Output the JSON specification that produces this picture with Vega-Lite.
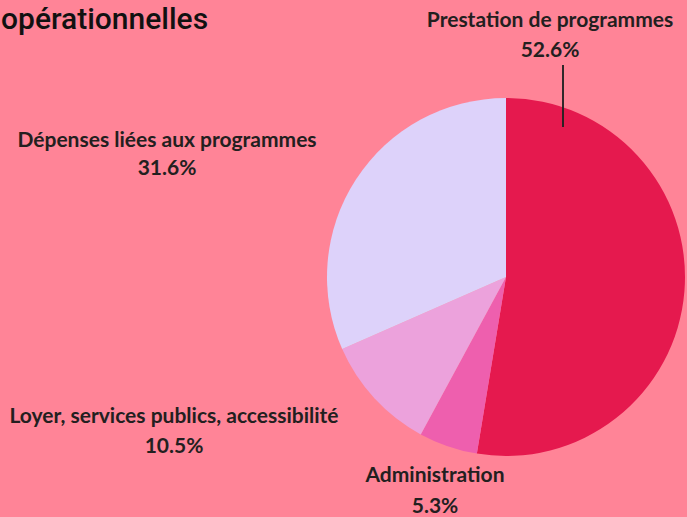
{
  "$schema": "https://vega.github.io/schema/vega-lite/v6.json",
  "width": 687,
  "height": 517,
  "autosize": {"type": "fit", "contains": "padding"},
  "padding": 0,
  "background": "#FF8497",
  "config": {"view": {"stroke": null}},
  "data": {
    "values": [
      {"rank": 1, "name": "Prestation de programmes", "pct": 52.6},
      {"rank": 2, "name": "Administration", "pct": 5.3},
      {"rank": 3, "name": "Loyer, services publics, accessibilité", "pct": 10.5},
      {"rank": 4, "name": "Dépenses liées aux programmes", "pct": 31.6}
    ]
  },
  "transform": [
    {"calculate": "datum.name + '\\n' + format(datum.pct, '.1f') + '%'", "as": "label"}
  ],
  "layer": [
    {
      "mark": {"type": "arc", "outerRadius": 179},
      "encoding": {
        "x": {"datum": 506, "type": "quantitative", "scale": {"domain": [0, 687], "nice": false, "zero": false}, "axis": null},
        "y": {"datum": 277, "type": "quantitative", "scale": {"domain": [0, 517], "nice": false, "zero": false, "reverse": true}, "axis": null},
        "theta": {"field": "pct", "type": "quantitative", "stack": true},
        "order": {"field": "rank", "type": "quantitative"},
        "color": {
          "field": "name",
          "type": "nominal",
          "legend": null,
          "scale": {
            "domain": ["Prestation de programmes", "Administration", "Loyer, services publics, accessibilité", "Dépenses liées aux programmes"],
            "range": ["#E5194E", "#EE5FAE", "#ECA2DC", "#DDD2FA"]
          }
        }
      }
    },
    {
      "mark": {"type": "rule", "color": "#222222", "strokeWidth": 1},
      "encoding": {
        "x": {"datum": 563, "type": "quantitative", "scale": {"domain": [0, 687], "nice": false, "zero": false}, "axis": null},
        "y": {"datum": 65, "type": "quantitative", "scale": {"domain": [0, 517], "nice": false, "zero": false, "reverse": true}, "axis": null},
        "y2": {"datum": 127}
      }
    },
    {
      "transform": [{"filter": "datum.rank == 1"}],
      "mark": {"type": "text", "font": "Lato", "fontWeight": "bold", "fontSize": 21, "color": "#231F20", "lineBreak": "\n", "lineHeight": 30, "align": "center", "baseline": "alphabetic"},
      "encoding": {
        "x": {"datum": 550, "type": "quantitative", "scale": {"domain": [0, 687], "nice": false, "zero": false}, "axis": null},
        "y": {"datum": 27, "type": "quantitative", "scale": {"domain": [0, 517], "nice": false, "zero": false, "reverse": true}, "axis": null},
        "text": {"field": "label"}
      }
    },
    {
      "transform": [{"filter": "datum.rank == 2"}],
      "mark": {"type": "text", "font": "Lato", "fontWeight": "bold", "fontSize": 21, "color": "#231F20", "lineBreak": "\n", "lineHeight": 31, "align": "center", "baseline": "alphabetic"},
      "encoding": {
        "x": {"datum": 435, "type": "quantitative", "scale": {"domain": [0, 687], "nice": false, "zero": false}, "axis": null},
        "y": {"datum": 482, "type": "quantitative", "scale": {"domain": [0, 517], "nice": false, "zero": false, "reverse": true}, "axis": null},
        "text": {"field": "label"}
      }
    },
    {
      "transform": [{"filter": "datum.rank == 3"}],
      "mark": {"type": "text", "font": "Lato", "fontWeight": "bold", "fontSize": 21, "color": "#231F20", "lineBreak": "\n", "lineHeight": 30, "align": "center", "baseline": "alphabetic"},
      "encoding": {
        "x": {"datum": 174, "type": "quantitative", "scale": {"domain": [0, 687], "nice": false, "zero": false}, "axis": null},
        "y": {"datum": 423, "type": "quantitative", "scale": {"domain": [0, 517], "nice": false, "zero": false, "reverse": true}, "axis": null},
        "text": {"field": "label"}
      }
    },
    {
      "transform": [{"filter": "datum.rank == 4"}],
      "mark": {"type": "text", "font": "Lato", "fontWeight": "bold", "fontSize": 21, "color": "#231F20", "lineBreak": "\n", "lineHeight": 28, "align": "center", "baseline": "alphabetic"},
      "encoding": {
        "x": {"datum": 167, "type": "quantitative", "scale": {"domain": [0, 687], "nice": false, "zero": false}, "axis": null},
        "y": {"datum": 147, "type": "quantitative", "scale": {"domain": [0, 517], "nice": false, "zero": false, "reverse": true}, "axis": null},
        "text": {"field": "label"}
      }
    },
    {
      "data": {"values": [{"title": "opérationnelles"}]},
      "mark": {"type": "text", "font": "Roboto", "fontWeight": 500, "fontSize": 30, "color": "#111111", "align": "left", "baseline": "alphabetic", "letterSpacing": 0.5},
      "encoding": {
        "x": {"datum": 1, "type": "quantitative", "scale": {"domain": [0, 687], "nice": false, "zero": false}, "axis": null},
        "y": {"datum": 29, "type": "quantitative", "scale": {"domain": [0, 517], "nice": false, "zero": false, "reverse": true}, "axis": null},
        "text": {"field": "title"}
      }
    }
  ]
}
